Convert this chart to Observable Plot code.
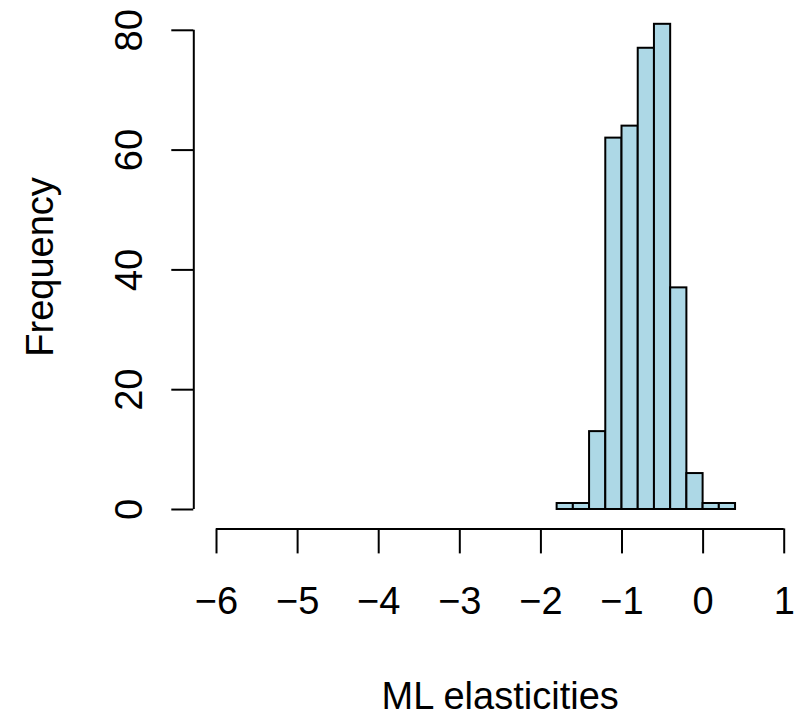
<!DOCTYPE html>
<html>
<head>
<meta charset="utf-8">
<script src="https://cdn.jsdelivr.net/npm/d3@7"></script>
<script src="https://cdn.jsdelivr.net/npm/@observablehq/plot@0.6"></script>
<style>
  html, body { margin: 0; padding: 0; background: #fff; }
  #chart svg { display: block; }
</style>
</head>
<body>
<div id="chart"></div>
<script>
// Histogram data (bin width 0.2)
const binLeft  = [-1.8, -1.6, -1.4, -1.2, -1.0, -0.8, -0.6, -0.4, -0.2, 0.0, 0.2];
const binRight = [-1.6, -1.4, -1.2, -1.0, -0.8, -0.6, -0.4, -0.2, 0.0, 0.2, 0.4];
const counts   = [1, 1, 13, 62, 64, 77, 81, 37, 6, 1, 1];
const xTicks = [-6, -5, -4, -3, -2, -1, 0, 1];
const yTicks = [0, 20, 40, 60, 80];
const xTitle = "ML elasticities";
const yTitle = "Frequency";

const bins = counts.map((c, i) => ({x1: binLeft[i], x2: binRight[i], count: c}));

// R-style 4% axis extension
const xLo = xTicks[0], xHi = xTicks[xTicks.length - 1];
const xPad = 0.04 * (xHi - xLo);
const yMax = d3.max(counts);
const yPad = 0.04 * yMax;

const W = 802, H = 716;
const mLeft = 193.3, mTop = 4.4, mBottom = 187.6;
const font = "'Liberation Sans', Arial, Helvetica, sans-serif";
const fs = 38;

const chart = Plot.plot({
  width: W,
  height: H,
  marginLeft: mLeft,
  marginRight: 0,
  marginTop: mTop,
  marginBottom: mBottom,
  style: {fontFamily: font, fontSize: fs + "px", background: "white", color: "black", overflow: "visible"},
  x: {domain: [xLo - xPad, xHi + xPad], range: [mLeft, mLeft + (xHi - xLo + 2 * xPad) * 81.1]},
  y: {domain: [-yPad, yMax + yPad]},
  marks: [
    Plot.rectY(bins, {x1: "x1", x2: "x2", y1: 0, y2: "count", fill: "#ADD8E6", stroke: "black", strokeWidth: 2, inset: 0}),
    // x axis
    Plot.ruleY([-yPad], {x1: xLo, x2: xHi, stroke: "black", strokeWidth: 2}),
    Plot.axisX({ticks: xTicks, tickSize: 25, tickPadding: 33.6, strokeWidth: 2, fontSize: fs, label: null}),
    // y axis
    Plot.ruleX([xLo - xPad], {y1: yTicks[0], y2: yTicks[yTicks.length - 1], stroke: "black", strokeWidth: 2}),
    Plot.axisY({ticks: yTicks, tickSize: 22, tickPadding: 30, tickRotate: -90, textAnchor: "middle", lineAnchor: "bottom", strokeWidth: 2, fontSize: fs, label: null}),
    // titles
    Plot.text([xTitle], {frameAnchor: "bottom", text: d => d, lineAnchor: "bottom", dy: 180, dx: 2, fontSize: fs}),
    Plot.text([yTitle], {frameAnchor: "left", text: d => d, rotate: -90, textAnchor: "middle", lineAnchor: "bottom", dx: -141.3, fontSize: fs})
  ]
});
document.getElementById("chart").appendChild(chart);
</script>
</body>
</html>
